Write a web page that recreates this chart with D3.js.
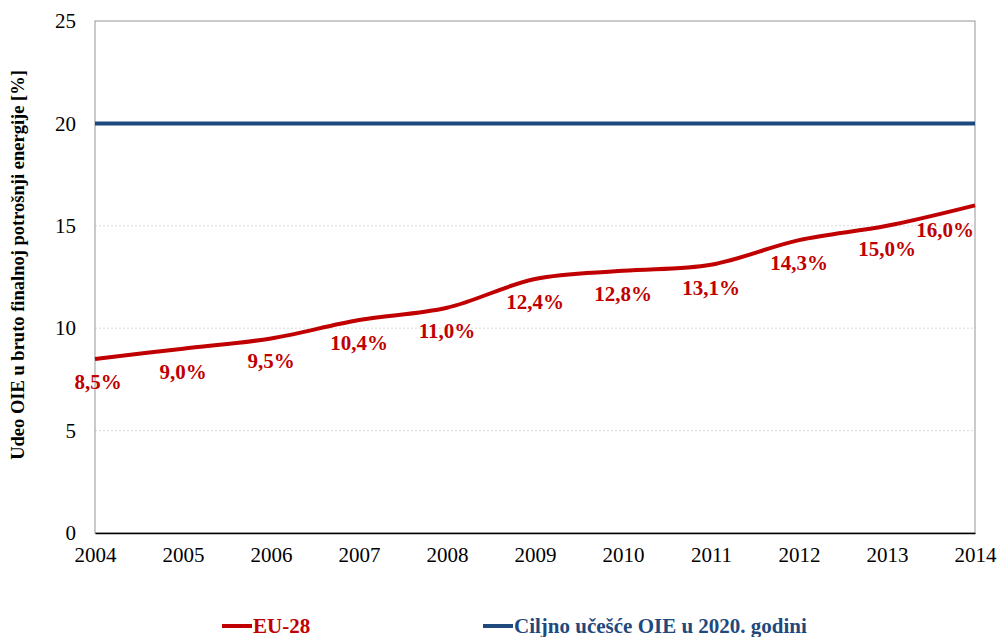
<!DOCTYPE html>
<html>
<head>
<meta charset="utf-8">
<script src="https://cdn.jsdelivr.net/npm/d3@7"></script>
<style>
  body { margin: 0; background: #fff; }
  svg { font-family: "Liberation Serif", "Times New Roman", serif; }
</style>
</head>
<body>
<svg id="chart" width="999" height="637"></svg>
<script>
const years = [2004, 2005, 2006, 2007, 2008, 2009, 2010, 2011, 2012, 2013, 2014]
const eu28 = [8.5, 9.0, 9.5, 10.4, 11.0, 12.4, 12.8, 13.1, 14.3, 15.0, 16.0]
const target = [20, 20, 20, 20, 20, 20, 20, 20, 20, 20, 20]
const yTicks = [0, 5, 10, 15, 20, 25]
const legendNames = ['EU-28', 'Ciljno učešće OIE u 2020. godini']

const margin = {top: 21, right: 24, bottom: 104, left: 95}
const width = 999, height = 637
const svg = d3.select('#chart')

const x = d3.scaleLinear().domain([2004, 2014]).range([margin.left, width - margin.right])
const y = d3.scaleLinear().domain([0, 25]).range([height - margin.bottom, margin.top])

const red = '#c00000'
const blue = '#1f497d'

// grid
svg.append('g')
    .selectAll('line')
    .data(yTicks.filter(d => d > 0 && d < 25))
    .enter()
    .append('line')
    .attr('x1', x(2004)).attr('x2', x(2014))
    .attr('y1', d => y(d)).attr('y2', d => y(d))
    .attr('stroke', '#d9d9d9')
    .attr('stroke-dasharray', '2,2')
    .attr('stroke-width', 1)

// frame
svg.append('rect')
    .attr('x', x(2004)).attr('y', y(25))
    .attr('width', x(2014) - x(2004)).attr('height', y(0) - y(25))
    .attr('fill', 'none')
    .attr('stroke', '#969696')
    .attr('stroke-width', 1)

// x axis
const xAxis = svg.append('g')
    .attr('transform', 'translate(0,' + y(0) + ')')
    .call(d3.axisBottom(x).tickValues(years).tickFormat(d3.format('d')).tickSize(0).tickPadding(14))
xAxis.select('.domain').attr('stroke', '#000').attr('stroke-width', 1.3)
xAxis.selectAll('text').attr('font-size', 21).attr('font-family', 'Liberation Serif').attr('fill', '#000')

// y axis
const yAxis = svg.append('g')
    .attr('transform', 'translate(' + x(2004) + ',0)')
    .call(d3.axisLeft(y).tickValues(yTicks).tickSize(0).tickPadding(19))
yAxis.select('.domain').remove()
yAxis.selectAll('text').attr('font-size', 21).attr('font-family', 'Liberation Serif').attr('fill', '#000')

svg.append('text')
    .attr('transform', 'translate(24,' + (y(12.5) - 12) + ') rotate(-90)')
    .attr('text-anchor', 'middle')
    .attr('font-size', 18.5)
    .attr('font-weight', 'bold')
    .text('Udeo OIE u bruto finalnoj potrošnji energije [%]')

// lines
const line = d3.line()
    .x((d, i) => x(years[i]))
    .y(d => y(d))

svg.append('path')
    .datum(target)
    .attr('d', line)
    .attr('fill', 'none')
    .attr('stroke', blue)
    .attr('stroke-width', 4)

svg.append('path')
    .datum(eu28)
    .attr('d', line.curve(d3.curveCatmullRom.alpha(0.5)))
    .attr('fill', 'none')
    .attr('stroke', red)
    .attr('stroke-width', 4)

// value labels
const fmt = d => d3.format('.1f')(d).replace('.', ',') + '%'
svg.append('g')
    .selectAll('text')
    .data(eu28)
    .enter()
    .append('text')
    .attr('x', (d, i) => x(years[i]) + (i === 0 ? 3 : i === eu28.length - 1 ? -30 : 0))
    .attr('y', (d, i) => y(d) + (i === eu28.length - 1 ? 32 : 30))
    .attr('text-anchor', 'middle')
    .attr('font-size', 21)
    .attr('font-weight', 'bold')
    .attr('fill', red)
    .text(fmt)

// legend
const legend = svg.append('g')
    .selectAll('g')
    .data(legendNames)
    .enter()
    .append('g')
    .attr('transform', (d, i) => 'translate(' + (i === 0 ? 222 : 483) + ',626)')
legend.append('line')
    .attr('x1', 0).attr('x2', 30)
    .attr('y1', 0).attr('y2', 0)
    .attr('stroke', (d, i) => i === 0 ? red : blue)
    .attr('stroke-width', 4)
legend.append('text')
    .attr('x', 31).attr('y', 7)
    .attr('font-size', 21)
    .attr('font-weight', 'bold')
    .attr('fill', (d, i) => i === 0 ? red : blue)
    .text(d => d)
</script>
</body>
</html>
